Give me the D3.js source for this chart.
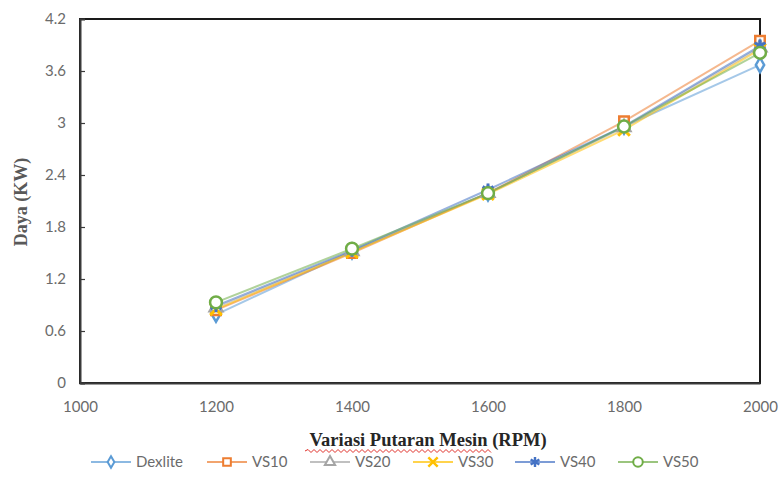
<!DOCTYPE html>
<html>
<head>
<meta charset="utf-8">
<script src="https://cdn.jsdelivr.net/npm/d3@7"></script>
<style>
  html, body { margin: 0; padding: 0; background: #fff; }
  svg { display: block; }
</style>
</head>
<body>
<svg id="chart" width="782" height="499"></svg>
<script>
// Engine speed (RPM) on the x axis
const rpm = [1200, 1400, 1600, 1800, 2000];

// Power output (kW) per fuel blend
const dexlite = [0.79, 1.52, 2.19, 2.96, 3.67];
const vs10    = [0.84, 1.50, 2.19, 3.02, 3.95];
const vs20    = [0.87, 1.52, 2.19, 2.95, 3.87];
const vs30    = [0.85, 1.51, 2.18, 2.92, 3.85];
const vs40    = [0.89, 1.53, 2.23, 2.96, 3.89];
const vs50    = [0.93, 1.55, 2.19, 2.96, 3.81];

const seriesNames = ["Dexlite", "VS10", "VS20", "VS30", "VS40", "VS50"];
const seriesValues = [dexlite, vs10, vs20, vs30, vs40, vs50];

const xTicks = [1000, 1200, 1400, 1600, 1800, 2000];
const yTicks = [0, 0.6, 1.2, 1.8, 2.4, 3, 3.6, 4.2];

const colors = ["#5B9BD5", "#ED7D31", "#A5A5A5", "#FFC000", "#4472C4", "#70AD47"];
const shapes = ["diamond", "square", "triangle", "cross", "star", "circle"];

const svg = d3.select("#chart");
const plotLeft = 80, plotRight = 760, plotTop = 19, plotBottom = 383;

const x = d3.scaleLinear().domain([1000, 2000]).range([plotLeft, plotRight]);
const y = d3.scaleLinear().domain([0, 4.2]).range([plotBottom, plotTop]);

// Plot frame
svg.append("rect")
  .attr("x", plotLeft).attr("y", plotTop)
  .attr("width", plotRight - plotLeft).attr("height", plotBottom - plotTop)
  .attr("fill", "none").attr("stroke", "#1a1a1a").attr("stroke-width", 2);

// Y axis with inward ticks
const yAxis = svg.append("g")
  .attr("transform", `translate(${plotLeft},0)`)
  .call(d3.axisLeft(y).tickValues(yTicks).tickSize(-5).tickPadding(14)
    .tickFormat(d => String(+d.toFixed(1))));
yAxis.select(".domain").attr("stroke", "#3a3a3a").attr("stroke-width", 2);
yAxis.selectAll(".tick line").attr("stroke", "#3a3a3a").attr("stroke-width", 1.2);
yAxis.selectAll(".tick text")
  .attr("fill", "#6b6b6b")
  .style("font-family", "Lato, 'Open Sans', sans-serif")
  .style("font-size", "15px");

// X axis
const xAxis = svg.append("g")
  .attr("transform", `translate(0,${plotBottom})`)
  .call(d3.axisBottom(x).tickValues(xTicks).tickSize(0).tickPadding(18).tickFormat(d3.format("d")));
xAxis.select(".domain").attr("stroke", "#3a3a3a").attr("stroke-width", 2);
xAxis.selectAll(".tick text")
  .attr("fill", "#6b6b6b")
  .style("font-family", "Lato, 'Open Sans', sans-serif")
  .style("font-size", "15px");

// Axis titles
svg.append("text")
  .attr("transform", "translate(27,202) rotate(-90)")
  .attr("text-anchor", "middle")
  .attr("fill", "#595959")
  .style("font-family", "'Liberation Serif', 'Times New Roman', serif")
  .style("font-weight", "bold")
  .style("font-size", "18px")
  .text("Daya (KW)");

svg.append("text")
  .attr("x", 428).attr("y", 446)
  .attr("text-anchor", "middle")
  .attr("fill", "#262626")
  .style("font-family", "'Liberation Serif', 'Times New Roman', serif")
  .style("font-weight", "bold")
  .style("font-size", "18.5px")
  .text("Variasi Putaran Mesin (RPM)");

// Wavy red underline beneath the first three words of the x title
(function () {
  const x0 = 305, x1 = 491, yy = 451, step = 3, amp = 1.5;
  let d = `M${x0},${yy}`;
  let up = true;
  for (let px = x0 + step; px <= x1; px += step) {
    d += `L${px},${yy + (up ? -amp : amp)}`;
    up = !up;
  }
  svg.append("path").attr("d", d).attr("fill", "none")
    .attr("stroke", "#e0302a").attr("stroke-width", 1);
})();

// Marker symbols
const symbolSizes = { diamond: 60, square: 90, triangle: 70, cross: 90, star: 110, circle: 110 };
const symbolTypes = {
  diamond: d3.symbolDiamond, square: d3.symbolSquare, triangle: d3.symbolTriangle,
  cross: d3.symbolX, star: d3.symbolAsterisk, circle: d3.symbolCircle
};

function drawMarker(g, shape, color, cx, cy, scale) {
  const open = shape === "cross" || shape === "star";
  const sym = d3.symbol().type(symbolTypes[shape]).size(symbolSizes[shape] * scale);
  g.append("path")
    .attr("d", sym())
    .attr("transform", `translate(${cx},${cy})`)
    .attr("fill", open ? "none" : "#fff")
    .attr("stroke", color)
    .attr("stroke-width", (open ? 3 : 2.5) * Math.sqrt(scale));
}

const line = d3.line().x((d, i) => x(rpm[i])).y(d => y(d));

// Lines
seriesValues.forEach((vals, s) => {
  svg.append("path")
    .datum(vals)
    .attr("d", line)
    .attr("fill", "none")
    .attr("stroke", colors[s])
    .attr("stroke-opacity", 0.55)
    .attr("stroke-width", 2);
});

// Markers
seriesValues.forEach((vals, s) => {
  const g = svg.append("g");
  vals.forEach((v, i) => drawMarker(g, shapes[s], colors[s], x(rpm[i]), y(v), 1));
});

// Legend
const legendX = [91, 207, 310, 413, 515, 618];
const legendY = 462;
seriesNames.forEach((name, s) => {
  const g = svg.append("g");
  const lx = legendX[s];
  g.append("line")
    .attr("x1", lx).attr("x2", lx + 40)
    .attr("y1", legendY).attr("y2", legendY)
    .attr("stroke", colors[s]).attr("stroke-width", 2).attr("stroke-opacity", 0.7);
  drawMarker(g, shapes[s], colors[s], lx + 20, legendY, 0.65);
  g.append("text")
    .attr("x", lx + 45).attr("y", legendY + 5)
    .attr("fill", "#6b6b6b")
    .style("font-family", "Lato, 'Open Sans', sans-serif")
    .style("font-size", "15px")
    .text(name);
});
</script>
</body>
</html>
